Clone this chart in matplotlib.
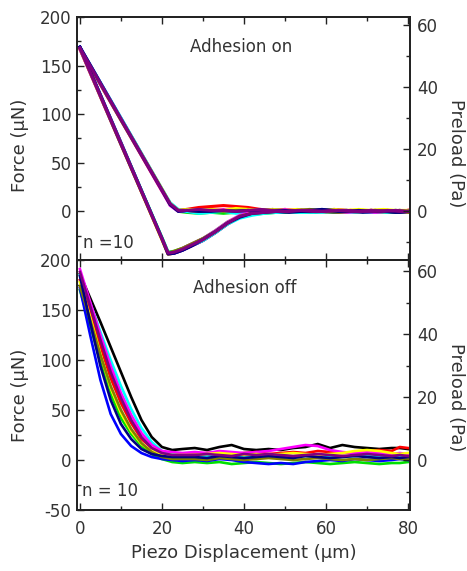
import matplotlib
matplotlib.use('Agg')
import matplotlib.pyplot as plt
from matplotlib.ticker import MultipleLocator

plt.rcParams['font.family'] = 'DejaVu Sans'
plt.rcParams['axes.unicode_minus'] = False

colors = ['black', 'red', '#00e000', 'blue', 'cyan', 'magenta', 'yellow',
          '#808000', '#000080', '#800080']

#
# Adhesion on: approach and retract traces, one row per trial
#
x_on_app = [0, 10, 20, 22, 24, 26, 29, 32, 35, 38, 41, 44, 47, 50, 53, 56,
            59, 62, 65, 68, 71, 74, 77, 80]
f_on_app = [
    [168, 95, 22, 8, 1, 0, 1, -1, 0, 1, 2, 1, 0, 1, 0, -1, 0, 1, 0, 0, 1, 0, -1, 0],
    [167, 94, 21, 7, 1, 2, 4, 5, 6, 5, 4, 2, 1, 2, 1, 0, 1, 2, 1, 0, 1, 1, 0, 1],
    [168, 95, 22, 7, 0, -1, -2, -1, -2, -1, 0, -1, 0, -1, 0, 1, 0, -1, 0, 1, 0, -1, 0, -1],
    [169, 96, 23, 8, 1, 0, -1, 0, 1, 0, -1, 1, 2, 0, 1, 0, 2, 1, 0, 1, 0, 1, 0, 0],
    [168, 96, 23, 9, 2, 0, -2, -1, 0, -2, -1, 0, -1, 0, -1, 0, -1, 0, 1, 0, -1, 0, 1, 0],
    [167, 94, 21, 6, 0, 1, 0, 1, 2, 1, 0, 1, 0, 2, 1, 0, 1, 0, -1, 0, 1, 0, 0, -1],
    [168, 95, 23, 8, 1, 2, 1, 2, 1, 3, 2, 1, 2, 1, 2, 1, 1, 2, 1, 2, 1, 2, 1, 1],
    [168, 94, 22, 7, 1, 1, 0, 1, 0, 1, 1, 0, 1, 0, 1, 2, 1, 0, 1, 0, 1, 0, 1, 0],
    [169, 95, 22, 7, 0, 1, 0, 0, 1, 0, 1, 0, 1, 1, 0, 1, 2, 1, 0, 1, 0, 0, -1, 0],
    [168, 95, 22, 8, 1, 1, 2, 1, 1, 0, 1, 2, 1, 0, 1, 1, 0, 1, 1, 0, 1, 0, 1, 0],
]

x_on_ret = [0, 10, 20, 21.5, 23, 25, 27, 30, 33, 36, 39, 42, 45, 48, 51, 54,
            57, 60, 63, 66, 69, 72, 75, 78, 80]
f_on_ret = [
    [168, 70, -28, -43, -42, -39, -35, -29, -21, -12, -5, -2, -1, 0, 1, 0, -1, 0, 1, 0, 0, -1, 0, 1, 0],
    [167, 69, -29, -44, -43, -40, -36, -30, -22, -13, -6, -3, -1, 0, 0, 1, 0, -1, 0, 1, 0, 0, -1, 0, 1],
    [168, 70, -27, -42, -41, -38, -34, -28, -20, -11, -5, -3, -2, -1, 0, -1, 0, 1, 0, -1, 0, 1, 0, -1, 0],
    [169, 71, -28, -43, -43, -40, -36, -30, -22, -13, -6, -2, -1, -1, 0, 1, 0, 0, -1, 0, 1, 0, 0, 1, 0],
    [168, 70, -27, -42, -42, -39, -35, -30, -22, -13, -7, -4, -2, -1, 0, -1, -1, 0, 0, -1, 0, 0, -1, 0, -1],
    [167, 69, -28, -43, -42, -38, -34, -28, -20, -11, -4, -1, 0, 0, 1, 0, 1, 0, 0, 1, 0, -1, 0, 0, 1],
    [168, 70, -29, -44, -42, -39, -35, -29, -21, -12, -5, -2, 0, 1, 0, 1, 0, 1, 0, 0, 1, 0, 1, 0, 0],
    [168, 69, -28, -43, -41, -38, -34, -28, -21, -12, -5, -2, -1, 0, 0, 0, 1, 0, -1, 0, 0, 1, 0, 0, -1],
    [169, 70, -28, -44, -43, -40, -36, -29, -21, -12, -6, -2, -1, 0, -1, 0, 0, 1, 0, 0, -1, 0, 0, -1, 0],
    [168, 70, -28, -43, -42, -39, -35, -29, -21, -12, -5, -2, -1, 0, 0, 1, 0, 0, 1, 0, 0, 0, 1, 0, 0],
]

#
# Adhesion off: one trace per trial
#
x_off = [0, 2.5, 5, 7.5, 10, 12.5, 15, 17.5, 20, 22.5, 25, 28, 31, 34, 37,
         40, 43, 46, 49, 52, 55, 58, 61, 64, 67, 70, 73, 76, 78, 80]
f_off = [
    # black
    [186, 162, 138, 113, 88, 63, 40, 23, 13, 10, 11,
     12, 10, 13, 15, 11, 10, 11, 10, 12, 13, 16, 12, 15, 13, 12, 11, 12, 12, 11],
    # red
    [180, 148, 114, 82, 57, 37, 21, 12, 8, 6, 6,
     6, 7, 8, 6, 7, 8, 6, 7, 8, 7, 9, 8, 7, 8, 9, 10, 9, 13, 12],
    # green
    [170, 135, 98, 66, 42, 26, 14, 6, 1, -2, -3,
     -2, -3, -2, -4, -3, -2, -3, -4, -3, -2, -3, -4, -3, -2, -3, -4, -3, -3, -2],
    # blue
    [172, 125, 80, 46, 26, 14, 7, 3, 1, 0, -1,
     0, -1, 1, 0, -2, -3, -4, -3, -4, -2, -1, 0, -1, 1, 0, -1, 0, 1, 0],
    # cyan
    [185, 157, 128, 100, 74, 51, 32, 18, 9, 6, 5,
     5, 4, 6, 5, 4, 3, 4, 5, 3, 4, 5, 4, 3, 4, 5, 4, 3, 4, 4],
    # magenta
    [191, 158, 125, 94, 67, 45, 27, 15, 9, 8, 7,
     8, 7, 9, 8, 7, 8, 9, 11, 13, 15, 14, 10, 8, 7, 8, 7, 6, 7, 6],
    # yellow
    [178, 143, 106, 72, 47, 29, 16, 9, 6, 5, 5,
     5, 6, 7, 6, 5, 6, 5, 6, 7, 6, 5, 6, 7, 9, 10, 9, 7, 6, 7],
    # olive
    [174, 140, 105, 74, 50, 31, 17, 8, 3, 1, 1,
     1, 0, 2, 1, 0, 1, 2, 1, 0, 1, 2, 1, 0, 1, 0, 1, 2, 1, 1],
    # navy
    [184, 138, 94, 60, 36, 21, 11, 6, 4, 3, 3,
     3, 2, 4, 3, 2, 3, 4, 3, 2, 4, 3, 2, 3, 4, 3, 2, 3, 2, 3],
    # purple
    [188, 154, 120, 88, 62, 40, 23, 12, 7, 5, 5,
     5, 6, 5, 4, 6, 5, 6, 5, 4, 5, 6, 5, 4, 5, 6, 5, 4, 5, 4],
]

# uN per Pa for the right-hand preload axis
scale_on = 3.2
scale_off = 3.15

ink = '#222222'
txt = '#333333'

fig = plt.figure(figsize=(4.67, 5.71), dpi=100)
ax_on = fig.add_axes([0.165, 0.5447, 0.713, 0.4256])
ax_off = fig.add_axes([0.165, 0.1068, 0.713, 0.4378])


def style(ax, scale, yt):
    ax.set_xlim(-0.7, 80.5)
    ax.set_ylim(-50, 200)
    ax.set_yticks(yt)
    ax.set_xticks([0, 20, 40, 60, 80])
    ax.xaxis.set_minor_locator(MultipleLocator(10))
    ax.yaxis.set_minor_locator(MultipleLocator(25))
    ax.tick_params(which='both', direction='in', top=True, right=False,
                   color=ink, width=1, labelcolor=txt, labelsize=12)
    ax.tick_params(which='major', length=5)
    ax.tick_params(which='minor', length=3)
    ax.tick_params(axis='y', pad=4)
    ax.tick_params(axis='x', pad=7)
    for s in ax.spines.values():
        s.set_color(ink)
        s.set_linewidth(1.3)
    ax2 = ax.twinx()
    ax2.set_ylim(-50 / scale, 200 / scale)
    ax2.set_yticks([0, 20, 40, 60])
    ax2.yaxis.set_minor_locator(MultipleLocator(10))
    ax2.tick_params(which='both', direction='in', color=ink, width=1,
                    labelcolor=txt, labelsize=12, pad=5)
    ax2.tick_params(which='major', length=5)
    ax2.tick_params(which='minor', length=3)
    for s in ax2.spines.values():
        s.set_color(ink)
        s.set_linewidth(1.3)
    ax.set_ylabel('Force (µN)', fontsize=13, color=txt)
    ax2.set_ylabel('Preload (Pa)', fontsize=13, color=txt, rotation=270)
    return ax2


ax2_on = style(ax_on, scale_on, [0, 50, 100, 150, 200])
ax2_off = style(ax_off, scale_off, [-50, 0, 50, 100, 150, 200])

for c, fa, fr in zip(colors, f_on_app, f_on_ret):
    ax_on.plot(x_on_app, fa, color=c, lw=2.2)
    ax_on.plot(x_on_ret, fr, color=c, lw=2.2)

for c, f in zip(colors, f_off):
    ax_off.plot(x_off, f, color=c, lw=1.9)

ax_on.tick_params(axis='x', labelbottom=False)
ax_off.set_xlabel('Piezo Displacement (µm)', fontsize=13, color=txt)

# label positions, centred on the label itself
ax_on.yaxis.set_label_coords(-0.171, 0.47)
ax_off.yaxis.set_label_coords(-0.171, 0.46)
ax2_on.yaxis.set_label_coords(1.137, 0.44)
ax2_off.yaxis.set_label_coords(1.137, 0.45)
for a in (ax_on, ax_off, ax2_on, ax2_off):
    a.yaxis.label.set_va('center')
ax_off.xaxis.set_label_coords(0.5, -0.136)

ax_on.text(26.8, 169, 'Adhesion on', fontsize=12, color=txt, va='center')
ax_off.text(27.6, 172, 'Adhesion off', fontsize=12, color=txt, va='center')
ax_on.text(0.7, -33, 'n =10', fontsize=12, color=txt, va='center')
ax_off.text(0.5, -31, 'n = 10', fontsize=12, color=txt, va='center')

fig.savefig('out.png', dpi=100)
